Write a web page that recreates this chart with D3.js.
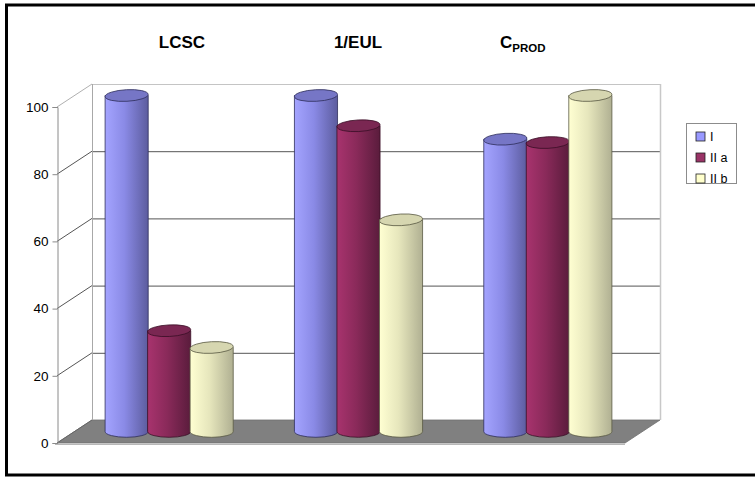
<!DOCTYPE html>
<html>
<head>
<meta charset="utf-8">
<script src="https://cdn.jsdelivr.net/npm/d3@7"></script>
<style>
  html, body { margin: 0; padding: 0; background: #fff; }
  svg { display: block; }
  text { font-family: "Liberation Sans", Arial, sans-serif; }
</style>
</head>
<body>
<svg id="chart" width="755" height="477"></svg>
<script>
// Indicator groups shown along the floor
const categories = ["LCSC", "1/EUL", "CPROD"];
// Series (variants) and their values per indicator, in category order
const seriesNames = ["I", "II a", "II b"];
const valuesI   = [100, 100, 87];
const valuesIIa = [30, 91, 86];
const valuesIIb = [25, 63, 100];
const yTicks = [0, 20, 40, 60, 80, 100];

const seriesValues = [valuesI, valuesIIa, valuesIIb];
const palette = {
  "I":    { light: "#a4a4ff", mid: "#8a8ae6", dark: "#5c5c9e", top: "#7676c6", stroke: "#2e2e5c" },
  "II a": { light: "#a8336e", mid: "#8a2a5a", dark: "#5a1c3c", top: "#7a2752", stroke: "#3a0f26" },
  "II b": { light: "#ffffd2", mid: "#e6e6bc", dark: "#b0b092", top: "#d6d6b0", stroke: "#5a5a44" }
};

const svg = d3.select("#chart");
const defs = svg.append("defs");

// Frame around the plot
svg.append("rect").attr("x", 6.5).attr("y", 5).attr("width", 760).attr("height", 470)
  .attr("fill", "none").attr("stroke", "#000").attr("stroke-width", 3);

// 3D layout: front plane plus a depth offset toward the back wall
const front = { left: 57, right: 625, bottom: 443, top: 107 };
const depth = { dx: 35, dy: -23 };

const y = d3.scaleLinear().domain([0, 100]).range([front.bottom, front.top]);
const x = d3.scaleBand().domain(categories).range([front.left, front.right]);
const xs = d3.scaleBand().domain(seriesNames).range([0, x.bandwidth()]).paddingOuter(0.727);

// Back wall
const bw = { l: front.left + depth.dx, r: front.right + depth.dx };
const g = svg.append("g");
g.append("rect").attr("x", bw.l).attr("y", y(100) + depth.dy)
  .attr("width", bw.r - bw.l).attr("height", y(0) - y(100)).attr("fill", "#fff");

// Floor
g.append("polygon")
  .attr("points", [
    [front.left, y(0)], [bw.l, y(0) + depth.dy], [bw.r, y(0) + depth.dy], [front.right, y(0)]
  ].map(p => p.join(",")).join(" "))
  .attr("fill", "#808080").attr("stroke", "#707070").attr("stroke-width", 0.8);
g.append("line").attr("x1", front.left - 2).attr("x2", front.right).attr("y1", y(0) + 1.5).attr("y2", y(0) + 1.5)
  .attr("stroke", "#b8b8b8").attr("stroke-width", 1);

// Gridlines on the back wall and the side wall
yTicks.filter(t => t > 0).forEach(t => {
  const top = t === 100;
  const col = top ? "#c4c4c4" : "#555";
  g.append("line").attr("x1", bw.l).attr("x2", bw.r)
    .attr("y1", y(t) + depth.dy + 0.5).attr("y2", y(t) + depth.dy + 0.5)
    .attr("stroke", col).attr("stroke-width", 1);
  g.append("line").attr("x1", front.left).attr("y1", y(t))
    .attr("x2", bw.l).attr("y2", y(t) + depth.dy)
    .attr("stroke", top ? "#b0b0b0" : "#555").attr("stroke-width", 1);
});
// Wall edges
g.append("line").attr("x1", bw.l + 0.5).attr("x2", bw.l + 0.5)
  .attr("y1", y(100) + depth.dy).attr("y2", y(0) + depth.dy)
  .attr("stroke", "#a8a8a8").attr("stroke-width", 1);
g.append("line").attr("x1", bw.r + 0.5).attr("x2", bw.r + 0.5)
  .attr("y1", y(100) + depth.dy).attr("y2", y(0) + depth.dy)
  .attr("stroke", "#c8c8c8").attr("stroke-width", 1.5);
g.append("line").attr("x1", front.left).attr("y1", y(0))
  .attr("x2", bw.l).attr("y2", y(0) + depth.dy)
  .attr("stroke", "#666").attr("stroke-width", 1);

// Value axis
const axis = svg.append("g").attr("transform", `translate(${front.left + 0.5},0)`)
  .call(d3.axisLeft(y).tickValues(yTicks).tickSize(5).tickPadding(4));
axis.select(".domain").attr("stroke", "#8a8a8a");
axis.selectAll(".tick line").attr("stroke", "#8a8a8a");
axis.selectAll(".tick text").attr("font-size", 13.5).attr("fill", "#000")
  .attr("font-family", "'Liberation Sans', Arial, sans-serif");

// Gradients for cylinder bodies
seriesNames.forEach((s, i) => {
  const c = palette[s];
  const lg = defs.append("linearGradient").attr("id", "grad" + i)
    .attr("x1", "0%").attr("x2", "100%").attr("y1", "0%").attr("y2", "0%");
  lg.append("stop").attr("offset", "0%").attr("stop-color", c.light);
  lg.append("stop").attr("offset", "45%").attr("stop-color", c.mid);
  lg.append("stop").attr("offset", "100%").attr("stop-color", c.dark);
});

// Cylinders sit midway through the depth
const mid = { dx: depth.dx / 2, dy: depth.dy / 2 };
const rx = xs.bandwidth() / 2 + 0.3;
const ry = 5.8;

categories.forEach((cat, ci) => {
  seriesNames.forEach((s, si) => {
    const v = seriesValues[si][ci];
    const cx = x(cat) + xs(s) + xs.bandwidth() / 2 + mid.dx;
    const yb = y(0) + mid.dy;
    const yt = y(v) + mid.dy;
    const c = palette[s];
    const cyl = svg.append("g");
    cyl.append("path")
      .attr("d", `M${cx - rx},${yt} L${cx - rx},${yb} A${rx},${ry} 0 0 0 ${cx + rx},${yb} L${cx + rx},${yt} Z`)
      .attr("fill", `url(#grad${si})`).attr("stroke", c.stroke).attr("stroke-width", 0.8);
    cyl.append("ellipse").attr("cx", cx).attr("cy", yt).attr("rx", rx).attr("ry", ry)
      .attr("transform", `rotate(-3,${cx},${yt})`)
      .attr("fill", c.top).attr("stroke", c.stroke).attr("stroke-width", 0.8);
  });
});

// Category headings above the plot
const headX = { "LCSC": 182, "1/EUL": 358, "CPROD": 500 };
categories.forEach(cat => {
  if (cat === "CPROD") {
    const t = svg.append("text").attr("x", headX[cat]).attr("y", 48)
      .attr("font-size", 17).attr("font-weight", "bold").attr("text-anchor", "start");
    t.append("tspan").text("C");
    t.append("tspan").attr("font-size", 11.5).attr("dy", 4).text("PROD");
  } else {
    svg.append("text").attr("x", headX[cat]).attr("y", 48)
      .attr("font-size", 17).attr("font-weight", "bold").attr("text-anchor", "middle").text(cat);
  }
});

// Legend
const lg = svg.append("g").attr("transform", "translate(686,123)");
lg.append("rect").attr("x", 0.5).attr("y", 0.5).attr("width", 50).attr("height", 60)
  .attr("fill", "#fff").attr("stroke", "#8c8c8c").attr("stroke-width", 1);
seriesNames.forEach((s, i) => {
  const row = lg.append("g").attr("transform", `translate(10,${9 + i * 21})`);
  row.append("rect").attr("width", 9).attr("height", 9)
    .attr("fill", [ "#9999ff", "#993366", "#ffffcc" ][i]).attr("stroke", "#222").attr("stroke-width", 0.8);
  row.append("text").attr("x", 14).attr("y", 9).attr("font-size", 12.5).text(s);
});
</script>
</body>
</html>
